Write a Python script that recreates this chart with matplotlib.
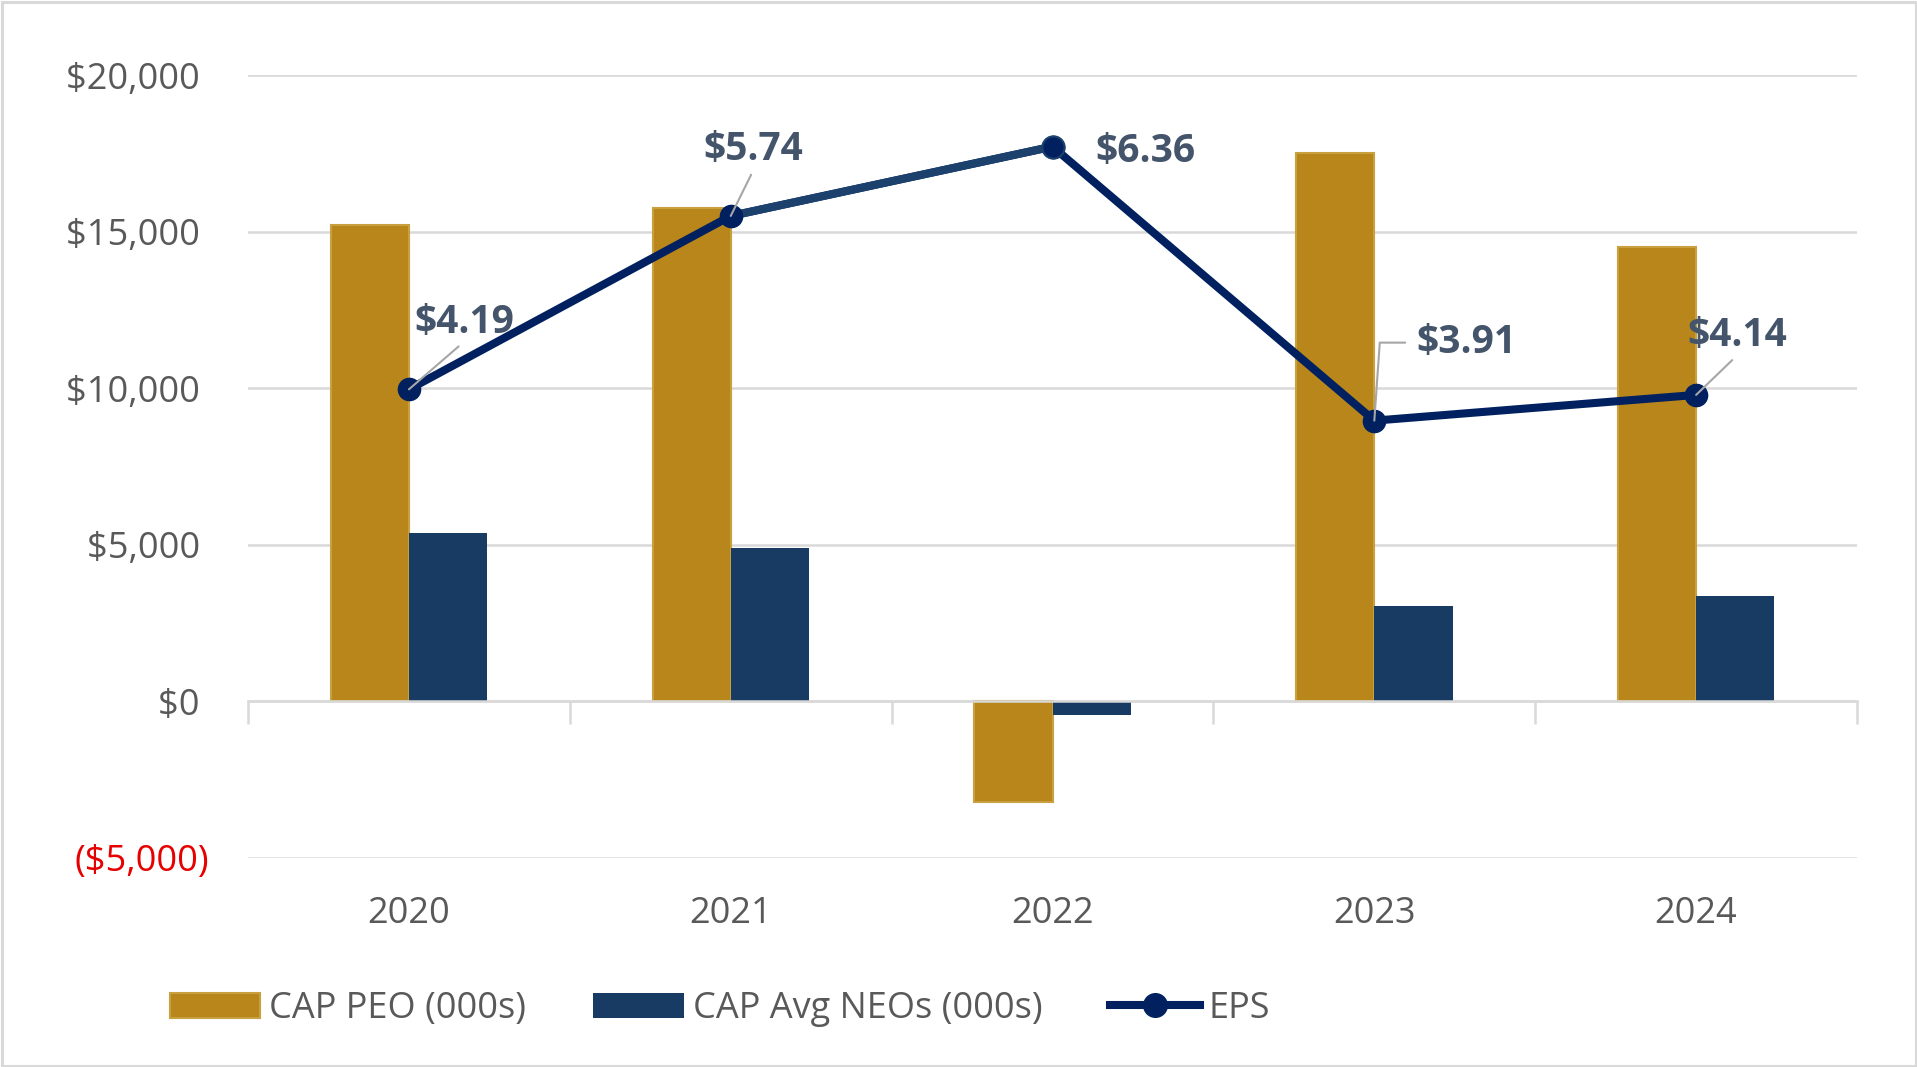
import numpy as np
import matplotlib
matplotlib.use("Agg")
import matplotlib.pyplot as plt
from matplotlib.patches import Patch, Rectangle
from matplotlib.lines import Line2D
from matplotlib.ticker import FuncFormatter

plt.rcParams['font.family'] = ['Open Sans', 'DejaVu Sans']

# data
years = ['2020', '2021', '2022', '2023', '2024']
cap_peo = [15200, 15750, -3200, 17500, 14500]   # CAP PEO (000s)
cap_neo = [5380, 4910, -430, 3040, 3350]        # CAP Avg NEOs (000s)
eps = [4.19, 5.74, 6.36, 3.91, 4.14]
eps_labels = ['$4.19', '$5.74', '$6.36', '$3.91', '$4.14']

GOLD = '#B8861B'
GOLD_EDGE = '#C9A040'
NAVY_BAR = '#173B63'
LINE = '#002060'
SEG = '#1B416C'
GRID = '#D9D9D9'
TXT = '#595959'
LBL = '#44546A'

fig = plt.figure(figsize=(19.17, 10.67), dpi=100)
ax = fig.add_axes([0.1294, 0.1959, 0.8393, 0.7338])

x = np.arange(len(years))
w = 0.243
ax.bar(x - w / 2, cap_peo, w, color=GOLD, edgecolor=GOLD_EDGE, linewidth=1.5, zorder=2)
ax.bar(x + w / 2, cap_neo, w, color=NAVY_BAR, zorder=2)

ax.set_xlim(-0.5, len(years) - 0.5)
ax.set_ylim(-5000, 20000)
ax.set_yticks(np.arange(-5000, 20001, 5000))
ax.yaxis.set_major_formatter(FuncFormatter(
    lambda v, p: f'(${abs(v):,.0f})' if v < 0 else f'${v:,.0f}\u2008'))
ax.tick_params(axis='y', length=0, pad=28, labelsize=26, labelcolor=TXT)
for lab in ax.get_yticklabels():
    if lab.get_text().startswith('('):
        lab.set_color('#E60000')

ax.yaxis.grid(True, color=GRID, linewidth=1.8)
ax.set_axisbelow(True)
for s in ['left', 'right', 'top']:
    ax.spines[s].set_visible(False)
ax.spines['bottom'].set_position(('data', 0))
ax.spines['bottom'].set_color(GRID)
ax.spines['bottom'].set_linewidth(1.8)

ax.set_xticks(x)
ax.set_xticklabels(years)
ax.set_xticks(np.arange(-0.5, len(years), 1), minor=True)
ax.tick_params(axis='x', which='major', length=0, pad=140, labelsize=26, labelcolor=TXT)
ax.tick_params(axis='x', which='minor', length=16.5, width=1.8, color=GRID, direction='out')

# EPS on a hidden secondary axis
ax2 = ax.twinx()
ax2.set_ylim(0, 7)
ax2.set_yticks([])
for s in ax2.spines.values():
    s.set_visible(False)

ax2.plot(x, eps, color=LINE, lw=5.8, solid_capstyle='round', zorder=3)
ax2.plot(x[1:3], eps[1:3], color=SEG, lw=5.8, solid_capstyle='butt', zorder=3)
ax2.plot(x, eps, ls='none', marker='o', ms=16, mfc=LINE, mec=LINE, zorder=4)
ax2.plot(x[2:3], eps[2:3], ls='none', marker='o', ms=16, mfc=LINE, mec=SEG, mew=1.5, zorder=4)

offsets = [(55, 67), (23, 66), (93, -5), (92, 78), (41, 59)]
leader = dict(arrowstyle='-', color='#A6A6A6', lw=1.5, shrinkA=2, shrinkB=0, relpos=(0.5, 0))
for i, (lab, off) in enumerate(zip(eps_labels, offsets)):
    props = None
    if i in (0, 1, 4):
        props = leader
    elif i == 3:
        props = dict(leader, relpos=(0, 0.5), shrinkA=6,
                     connectionstyle='angle,angleA=0,angleB=86,rad=0')
    ax2.annotate(lab, xy=(x[i], eps[i]), xytext=off, textcoords='offset pixels',
                 ha='center', va='center', fontsize=28, fontweight='bold', color=LBL,
                 arrowprops=props, zorder=5)

handles = [Patch(facecolor=GOLD, edgecolor=GOLD_EDGE, linewidth=1.5),
           Patch(facecolor=NAVY_BAR),
           Line2D([], [], color=LINE, lw=5.8, marker='o', ms=17)]
fig.legend(handles, ['CAP PEO (000s)', 'CAP Avg NEOs (000s)', 'EPS'],
           loc='center left', bbox_to_anchor=(170 / 1917, 1 - 1009 / 1067),
           ncol=3, frameon=False, fontsize=26, handlelength=2.5, handleheight=0.7,
           handletextpad=0.25, columnspacing=1.86, borderpad=0, borderaxespad=0,
           labelcolor=TXT)

fig.patches.append(Rectangle((1.5 / 1917, 1.5 / 1067), 1 - 3 / 1917, 1 - 3 / 1067,
                             transform=fig.transFigure, fill=False, ec=GRID, lw=2.2))

fig.savefig('out.png', dpi=100)
